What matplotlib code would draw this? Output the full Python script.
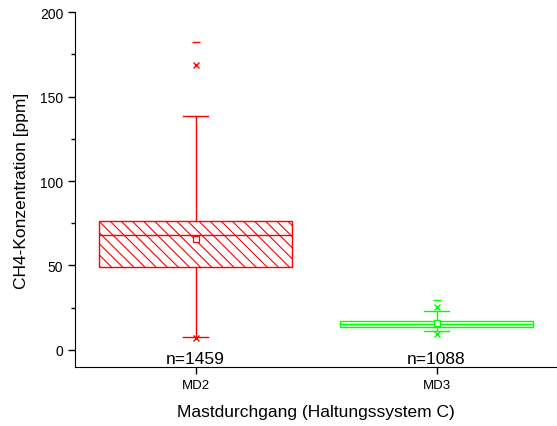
import matplotlib
matplotlib.use("Agg")
import matplotlib.pyplot as plt

plt.rcParams['font.family'] = ['Liberation Sans', 'DejaVu Sans']
plt.rcParams['hatch.linewidth'] = 0.8

categories = ["MD2", "MD3"]
counts = [1459, 1088]
q1 = [48.8, 13.3]
median = [68.2, 15.2]
q3 = [76.5, 17.2]
mean = [65.4, 15.6]
whisker_low = [7.7, 10.9]
whisker_high = [138.4, 23.3]
p01 = [6.9, 9.3]
p99 = [168.8, 25.5]
maximum = [182.4, 29.3]
colors = ["#FF0000", "#00FF00"]
hatches = ["\\\\\\", ""]

fig = plt.figure(figsize=(5.57, 4.27), dpi=100)
ax = fig.add_axes([75/557, 1-367.7/427, 1-75/557, (367.7-13.3)/427])

positions = [1, 2]
for i, cat in enumerate(categories):
    stats = [dict(label=cat, q1=q1[i], med=median[i], q3=q3[i], mean=mean[i],
                  whislo=whisker_low[i], whishi=whisker_high[i],
                  fliers=[p01[i], p99[i]])]
    c = colors[i]
    res = ax.bxp(stats, positions=[positions[i]], widths=0.8, capwidths=0.1,
                 patch_artist=True, showmeans=True, manage_ticks=False,
                 boxprops=dict(facecolor='none', edgecolor=c, linewidth=1.0),
                 medianprops=dict(color=c, linewidth=1.0),
                 whiskerprops=dict(color=c, linewidth=1.0),
                 capprops=dict(color=c, linewidth=1.0),
                 meanprops=dict(marker='s', markerfacecolor='white',
                                markeredgecolor=c, markersize=4, markeredgewidth=0.9),
                 flierprops=dict(marker='x', markeredgecolor=c, markersize=4.5,
                                 markeredgewidth=1.0, linestyle='none'))
    for b in res['boxes']:
        b.set_hatch(hatches[i])
    ax.plot([positions[i]], [maximum[i]], marker='_', color=c,
            markersize=6, markeredgewidth=1.0, linestyle='none')
    ax.text(positions[i], -5, "n=%d" % counts[i], ha='center', va='center', fontsize=12.5)

ax.set_xlim(0.5, 2.5)
ax.set_ylim(-10, 200)
ax.set_xticks(positions)
ax.set_xticklabels(categories, fontsize=9.5)
ax.set_yticks([0, 50, 100, 150, 200])
ax.set_yticks([25, 75, 125, 175], minor=True)
ax.tick_params(axis='y', labelsize=10, direction='out', length=5, width=1)
ax.tick_params(axis='y', which='minor', direction='out', length=3, width=1)
ax.tick_params(axis='x', direction='out', length=5, width=1)
ax.spines['top'].set_visible(False)
ax.spines['right'].set_visible(False)
ax.set_xlabel("Mastdurchgang (Haltungssystem C)", fontsize=12.5, labelpad=10)
ax.set_ylabel("CH4-Konzentration [ppm]", fontsize=12.5, labelpad=8)

fig.savefig("out.png", dpi=100)
